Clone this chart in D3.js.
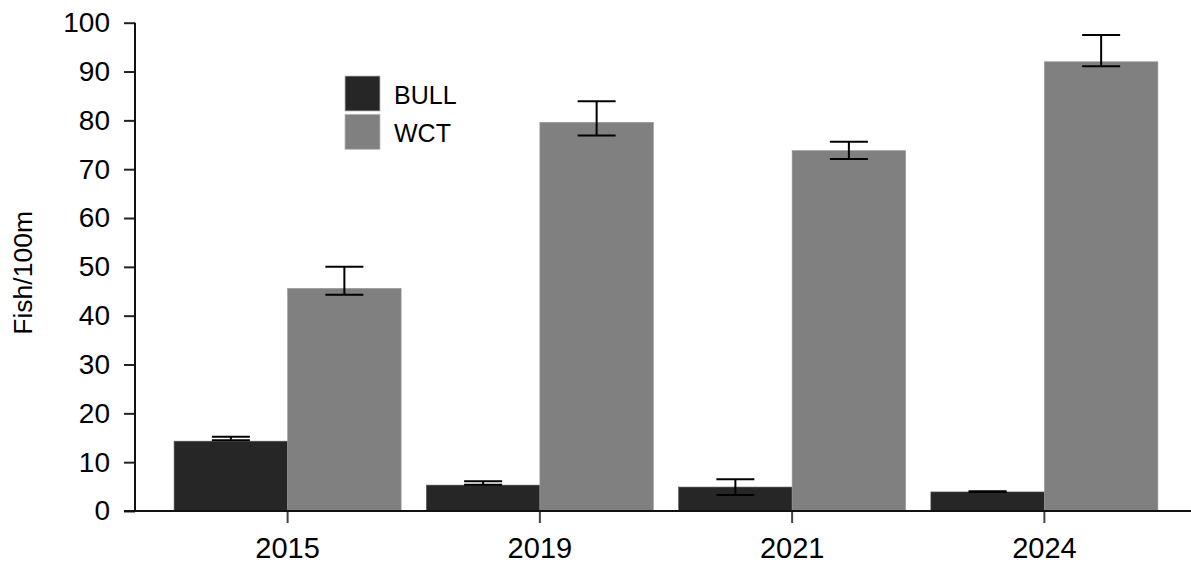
<!DOCTYPE html>
<html>
<head>
<meta charset="utf-8">
<script src="https://cdn.jsdelivr.net/npm/d3@7"></script>
<style>
  html, body { margin: 0; padding: 0; background: #fff; }
  svg { display: block; font-family: Arial, "Liberation Sans", sans-serif; }
</style>
</head>
<body>
<script>
// Data
const years = ["2015", "2019", "2021", "2024"];
const species = ["BULL", "WCT"];
const bullMean = [14.3, 5.3, 4.9, 3.9];
const bullLow = [14.5, 5.4, 3.3, 3.9];
const bullHigh = [15.2, 6.1, 6.5, 4.05];
const wctMean = [45.6, 79.6, 73.8, 92.0];
const wctLow = [44.3, 76.9, 72.1, 91.1];
const wctHigh = [50.0, 83.9, 75.6, 97.5];
const yTicks = [0, 10, 20, 30, 40, 50, 60, 70, 80, 90, 100];

const colors = { BULL: "#262626", WCT: "#808080" };

const width = 1191, height = 565;
const axisX = 135, axisY = 511;

const rows = [];
years.forEach((yr, i) => {
  rows.push({ year: yr, sp: "BULL", v: bullMean[i], lo: bullLow[i], hi: bullHigh[i] });
  rows.push({ year: yr, sp: "WCT", v: wctMean[i], lo: wctLow[i], hi: wctHigh[i] });
});

const svg = d3.select("body").append("svg")
  .attr("width", width)
  .attr("height", height);

const x = d3.scaleBand()
  .domain(years)
  .range([axisX, 1197])
  .paddingInner(0.1)
  .paddingOuter(0.155);

const xs = d3.scaleBand()
  .domain(species)
  .range([0, x.bandwidth()]);

const y = d3.scaleLinear()
  .domain([0, 100])
  .range([axisY, 22.7]);

// bars
svg.append("g")
  .selectAll("rect")
  .data(rows)
  .join("rect")
  .attr("x", d => x(d.year) + xs(d.sp))
  .attr("y", d => y(d.v))
  .attr("width", xs.bandwidth())
  .attr("height", d => y(0) - y(d.v))
  .attr("fill", d => colors[d.sp])
  .attr("stroke", d => d.sp === "WCT" ? "#999" : "#555")
  .attr("stroke-width", 0.6);

// error bars
const capW = 19;
const err = svg.append("g")
  .attr("stroke", "#000")
  .attr("stroke-width", 2)
  .selectAll("g")
  .data(rows)
  .join("g")
  .attr("transform", d => `translate(${x(d.year) + xs(d.sp) + xs.bandwidth() / 2},0)`);
err.append("line")
  .attr("y1", d => y(d.lo)).attr("y2", d => y(d.hi));
err.append("line")
  .attr("x1", -capW).attr("x2", capW)
  .attr("y1", d => y(d.hi)).attr("y2", d => y(d.hi));
err.append("line")
  .attr("x1", -capW).attr("x2", capW)
  .attr("y1", d => y(d.lo)).attr("y2", d => y(d.lo));

// y axis
const yAxis = svg.append("g")
  .attr("transform", `translate(${axisX},0)`)
  .call(d3.axisLeft(y).tickValues(yTicks).tickSize(11).tickPadding(14))
  .call(g => g.select(".domain").remove());
yAxis.selectAll(".tick line").attr("stroke", "#222").attr("stroke-width", 2);
yAxis.selectAll(".tick text")
  .attr("font-size", 28)
  .attr("font-family", "Arial, 'Liberation Sans', sans-serif")
  .attr("fill", "#000");
svg.append("line")
  .attr("x1", axisX).attr("x2", axisX)
  .attr("y1", y(100)).attr("y2", axisY)
  .attr("stroke", "#111").attr("stroke-width", 2);

// x axis
const xAxis = svg.append("g")
  .attr("transform", `translate(0,${axisY})`)
  .call(d3.axisBottom(x).tickSize(12).tickPadding(14))
  .call(g => g.select(".domain").remove());
xAxis.selectAll(".tick line").attr("stroke", "#444").attr("stroke-width", 2);
xAxis.selectAll(".tick text")
  .attr("font-size", 29)
  .attr("font-family", "Arial, 'Liberation Sans', sans-serif")
  .attr("fill", "#000");
svg.append("line")
  .attr("x1", 124).attr("x2", width)
  .attr("y1", axisY).attr("y2", axisY)
  .attr("stroke", "#111").attr("stroke-width", 2);

// y label
svg.append("text")
  .attr("transform", `translate(32,${(y(0) + y(100)) / 2 + 6}) rotate(-90)`)
  .attr("text-anchor", "middle")
  .attr("font-size", 26.5)
  .attr("fill", "#000")
  .text("Fish/100m");

// legend
const legend = svg.append("g")
  .selectAll("g")
  .data(species)
  .join("g")
  .attr("transform", (d, i) => `translate(345,${76 + i * 38.3})`);
legend.append("rect")
  .attr("width", 35).attr("height", 35)
  .attr("fill", d => colors[d])
  .attr("stroke", "#bbb").attr("stroke-width", 0.8);
legend.append("text")
  .attr("x", 49).attr("y", 28)
  .attr("font-size", 25)
  .attr("fill", "#000")
  .text(d => d);
</script>
</body>
</html>
